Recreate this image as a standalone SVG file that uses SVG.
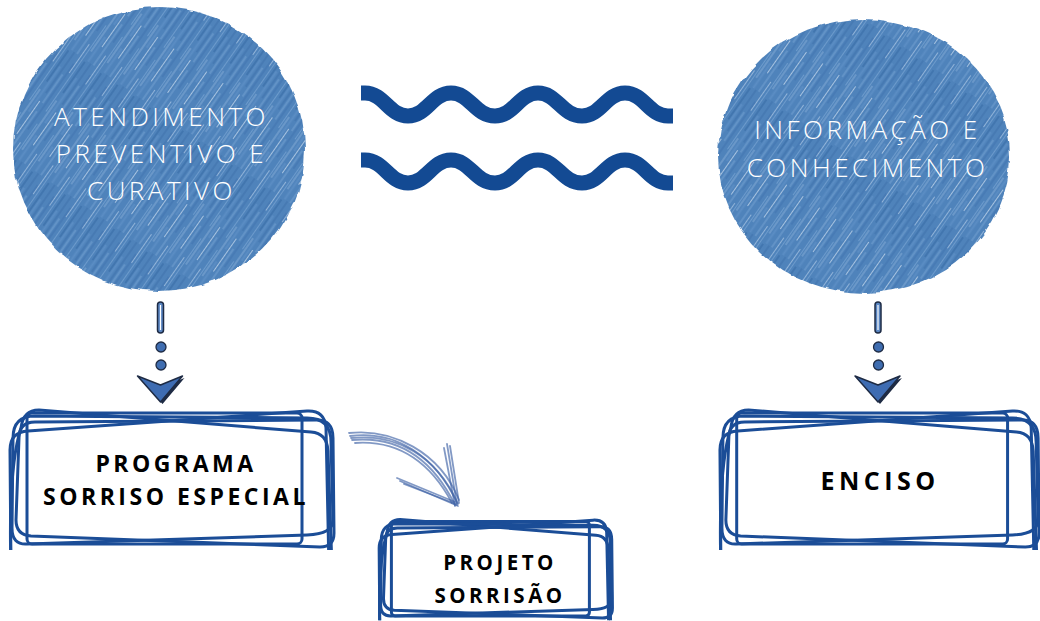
<svg xmlns="http://www.w3.org/2000/svg" xmlns:xlink="http://www.w3.org/1999/xlink" width="1040" height="621" viewBox="0 0 1040 621">
<style>
.circ-text{font-family:"Open Sans","Liberation Sans",sans-serif;font-weight:300;font-size:26px;letter-spacing:3.5px;fill:#ffffff;text-anchor:middle}
.box-text{font-family:"Open Sans","Liberation Sans",sans-serif;font-weight:700;font-size:23px;letter-spacing:3.5px;fill:#000000;text-anchor:middle}
.sk{fill:none;stroke:#1b4d97;stroke-width:3;stroke-linejoin:round;stroke-linecap:round;vector-effect:non-scaling-stroke}
.wave{fill:none;stroke:#134a93;stroke-width:15}
.sketch-arrow path{fill:none;stroke:#3f62a6;stroke-width:1.8;stroke-linecap:round;opacity:.65}
.bar{fill:#5a86c2;stroke:#1e2b44;stroke-width:1.5}
.dot{fill:#3f6db0;stroke:#1e2b44;stroke-width:1.3}
.chev{fill:#3e6cb2;stroke:#1e2b44;stroke-width:1.5;stroke-linejoin:round}
</style>
<defs>
<pattern id="pencil" width="120" height="20" patternUnits="userSpaceOnUse" patternTransform="rotate(-55)">
<rect width="120" height="20" fill="#4f83bb"/>
<path d="M0,1.5 H40 M55,1.5 H120" stroke="#6d9bcc" stroke-width="1.2"/>
<path d="M10,4 H70" stroke="#a8c7e7" stroke-width="1" opacity=".6"/>
<path d="M80,5 H118" stroke="#3d71ab" stroke-width="1.5"/>
<path d="M0,7.5 H30 M45,7.5 H100" stroke="#5b8dc4" stroke-width="2"/>
<path d="M20,10.5 H60" stroke="#e2eef9" stroke-width="1" opacity=".6"/>
<path d="M70,11 H120" stroke="#3f72ac" stroke-width="1.2"/>
<path d="M0,14 H50 M60,14 H95" stroke="#8db5df" stroke-width="1" opacity=".6"/>
<path d="M30,17 H110" stroke="#4678b3" stroke-width="1.6"/>
<path d="M100,18.5 H120 M0,18.5 H15" stroke="#c8ddf2" stroke-width="1" opacity=".55"/>
</pattern>
<filter id="rough" x="-5%" y="-5%" width="110%" height="110%">
<feTurbulence type="fractalNoise" baseFrequency="0.06" numOctaves="2" seed="3"/>
<feDisplacementMap in="SourceGraphic" scale="5" xChannelSelector="R" yChannelSelector="G"/>
</filter>
<mask id="maskL"><ellipse cx="159" cy="149" rx="146" ry="142" fill="#ffffff" filter="url(#rough)"/></mask>
<mask id="maskR"><ellipse cx="864" cy="156" rx="146" ry="137" fill="#ffffff" filter="url(#rough)"/></mask>
<clipPath id="boxclip"><rect x="-10" y="-10" width="350" height="152"/></clipPath>
<g id="sketchbox" clip-path="url(#boxclip)">
<rect class="sk" x="20" y="5" width="275" height="131" rx="5"/>
<path class="sk" d="M4,160 L3,42 Q3,24 21,23 L300,3 Q318,2 319,20 L322,160"/>
<path class="sk" d="M4,160 Q1,60 14,20 Q16,2 32,2 L304,24 Q320,25 321,43 L325,160"/>
<path class="sk" d="M28,8 L300,10 Q324,10 324,34 L326,112 Q326,126 300,127 L20,136 Q5,137 5,120 L6,30 Q6,8 28,8 Z"/>
<path class="sk" d="M12,30 Q12,14 28,14 L310,12 Q326,12 326,30 L327,125 Q327,139 313,139 L24,128 Q9,127 9,112 Z"/>
</g>
<g id="downarrow">
<rect class="bar" x="-3" y="302" width="6" height="31" rx="3"/>
<line x1="0" y1="305" x2="0" y2="330" stroke="#ffffff" stroke-width="1.2"/>
<circle class="dot" cx="0.5" cy="347" r="5"/>
<circle class="dot" cx="0.5" cy="365" r="5"/>
<polygon points="-21,378 1,387 24,378 2,404" fill="#1e2b44"/>
<polygon class="chev" points="-23,376 0,385 22,376 0,402"/>
</g>
</defs>

<g id="waves">
<path class="wave" d="M361,93 L365,93 C384,93 389,116 408,116 C427,116 432,93 451,93 C470,93 475,116 495,116 C514,116 519,93 538,93 C557,93 562,116 582,116 C601,116 606,93 625,93 C644,93 649,116 668,116 L673,116"/>
<path class="wave" d="M361,160 L365,160 C384,160 389,183 408,183 C427,183 432,160 451,160 C470,160 475,183 495,183 C514,183 519,160 538,160 C557,160 562,183 582,183 C601,183 606,160 625,160 C644,160 649,183 668,183 L673,183"/>
</g>

<g id="node-atendimento">
<rect x="5" y="0" width="310" height="300" fill="url(#pencil)" mask="url(#maskL)"/>
<text class="circ-text" x="161.5" y="126">ATENDIMENTO</text>
<text class="circ-text" x="161.5" y="163">PREVENTIVO E</text>
<text class="circ-text" x="161.5" y="200">CURATIVO</text>
</g>

<g id="node-informacao">
<rect x="710" y="10" width="310" height="292" fill="url(#pencil)" mask="url(#maskR)"/>
<text class="circ-text" x="867.5" y="139">INFORMAÇÃO E</text>
<text class="circ-text" x="867.5" y="177">CONHECIMENTO</text>
</g>

<g id="node-programa">
<use xlink:href="#sketchbox" href="#sketchbox" transform="translate(7,408)"/>
<text class="box-text" x="176" y="472">PROGRAMA</text>
<text class="box-text" x="176" y="505">SORRISO ESPECIAL</text>
</g>

<g id="node-projeto">
<use xlink:href="#sketchbox" href="#sketchbox" transform="translate(377,518) scale(0.72)"/>
<text class="box-text" x="500" y="570" style="font-size:20.5px">PROJETO</text>
<text class="box-text" x="500" y="603" style="font-size:20.5px">SORRISÃO</text>
</g>

<g id="node-enciso">
<use xlink:href="#sketchbox" href="#sketchbox" transform="translate(717,408) scale(0.985,1)"/>
<text class="box-text" x="880" y="490" style="font-size:25px;letter-spacing:4.5px">ENCISO</text>
</g>

<g id="connectors">
<use xlink:href="#downarrow" href="#downarrow" transform="translate(160.5,0)"/>
<use xlink:href="#downarrow" href="#downarrow" transform="translate(878,0)"/>
<g class="sketch-arrow">
<path d="M350,436 C395,430 435,455 457,503"/>
<path d="M352,440 C397,436 432,458 455,505"/>
<path d="M349,433 C392,428 440,452 459,500"/>
<path d="M355,443 C398,440 430,462 452,503"/>
<path d="M351,438 C396,433 437,456 458,504"/>
<path d="M400,481 L458,506"/>
<path d="M404,484 L456,504"/>
<path d="M397,478 L455,502"/>
<path d="M447,444 L457,505"/>
<path d="M450,446 L459,503"/>
<path d="M444,448 L455,506"/>
</g>
</g>
</svg>
